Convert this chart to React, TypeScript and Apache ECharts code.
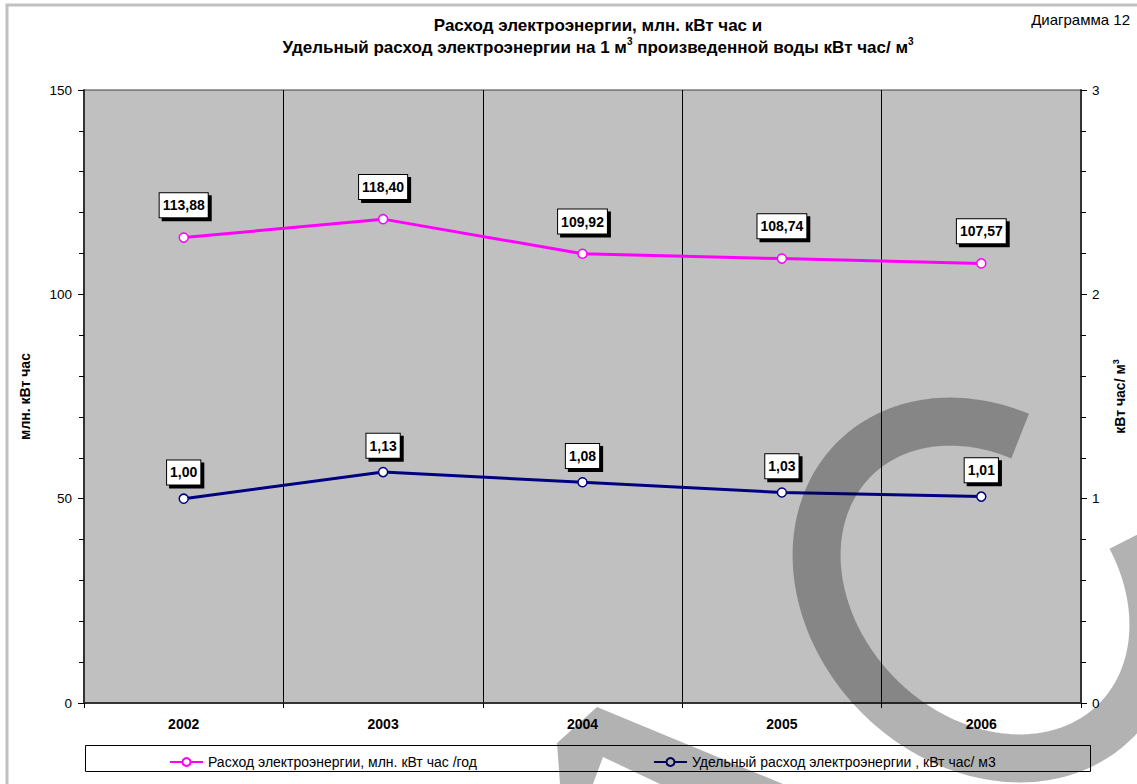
import React, { useEffect, useRef } from "react";
import * as echarts from "echarts";

const years = ["2002", "2003", "2004", "2005", "2006"];
const energyMln = [113.88, 118.4, 109.92, 108.74, 107.57];
const specificKwh = [1.0, 1.13, 1.08, 1.03, 1.01];
const leftAxisRange = [0, 150, 50];
const rightAxisRange = [0, 3, 1];

const seriesNames = [
  "Расход электроэнергии, млн. кВт час /год",
  "Удельный расход электроэнергии , кВт час/ м3",
];
const titleLine1 = "Расход электроэнергии, млн. кВт час и";
const titleLine2 =
  "Удельный расход электроэнергии на 1 м{sup|3} произведенной воды кВт час/ м{sup|3}";
const cornerNote = "Диаграмма 12";
const leftAxisName = "млн. кВт час";
const rightAxisName = "кВт час/ м{sup|3}";

const FONT = "'Liberation Sans', Arial, Helvetica, sans-serif";

function fmt(v: number) {
  return v.toFixed(2).replace(".", ",");
}

function watermarkPoints() {
  const cx = 985,
    cy = 590,
    a = 185,
    b = 150;
  const pts: number[][] = [];
  for (let deg = 117; deg <= 429; deg += 2) {
    const t = (deg * Math.PI) / 180;
    const u = a * Math.cos(t);
    const v = b * Math.sin(t);
    pts.push([cx + (u + v) / Math.SQRT2, cy + (u - v) / Math.SQRT2]);
  }
  return pts;
}

export default function App() {
  const ref = useRef<HTMLDivElement>(null);

  useEffect(() => {
    if (!ref.current) return;
    const chart = echarts.init(ref.current, null, { renderer: "svg" });

    const labelBase = {
      show: true,
      position: "top",
      formatter: (p: any) => fmt(p.value),
      color: "#000",
      fontFamily: FONT,
      fontSize: 14,
      fontWeight: "bold",
      lineHeight: 16,
      backgroundColor: "#fff",
      borderColor: "#000",
      borderWidth: 1,
      padding: [4, 3, 4, 3],
      shadowColor: "#000",
      shadowBlur: 0,
      shadowOffsetX: 3,
      shadowOffsetY: 3,
    };

    const option: any = {
      animation: false,
      backgroundColor: "#fff",
      textStyle: { fontFamily: FONT },
      grid: {
        left: 84,
        top: 90,
        right: 45,
        bottom: 81,
        show: true,
        backgroundColor: "#c0c0c0",
        borderColor: "#404040",
        borderWidth: 1,
      },
      legend: {
        left: 164,
        top: 750,
        itemWidth: 33,
        itemHeight: 10,
        itemGap: 176,
        textStyle: { color: "#000", fontSize: 14, fontFamily: FONT },
        data: seriesNames,
      },
      xAxis: {
        type: "category",
        data: years,
        boundaryGap: true,
        axisLine: { lineStyle: { color: "#333", width: 2 } },
        axisTick: { show: true, length: 5, interval: 0, lineStyle: { color: "#000" } },
        axisLabel: {
          color: "#000",
          fontSize: 14,
          fontWeight: "bold",
          fontFamily: FONT,
          margin: 14,
        },
        splitLine: { show: true, interval: 0, lineStyle: { color: "#000", width: 1 } },
      },
      yAxis: [
        {
          type: "value",
          min: leftAxisRange[0],
          max: leftAxisRange[1],
          interval: leftAxisRange[2],
          name: leftAxisName,
          nameLocation: "middle",
          nameGap: 52,
          nameTextStyle: { color: "#000", fontSize: 14, fontWeight: "bold", fontFamily: FONT },
          axisLine: { show: true, lineStyle: { color: "#333", width: 2 } },
          axisTick: { show: true, length: 6, lineStyle: { color: "#000" } },
          minorTick: { show: true, splitNumber: 5, length: 5, lineStyle: { color: "#000" } },
          axisLabel: { color: "#000", fontSize: 13.5, fontFamily: FONT, margin: 12 },
          splitLine: { show: false },
        },
        {
          type: "value",
          position: "right",
          min: rightAxisRange[0],
          max: rightAxisRange[1],
          interval: rightAxisRange[2],
          name: rightAxisName,
          nameLocation: "middle",
          nameGap: 30,
          nameTextStyle: {
            color: "#000",
            fontSize: 14,
            fontWeight: "bold",
            fontFamily: FONT,
            lineHeight: 18,
            rich: {
              sup: { fontSize: 9, fontWeight: "bold", verticalAlign: "top", lineHeight: 11, color: "#000" },
            },
          },
          axisLine: { show: true, lineStyle: { color: "#333", width: 2 } },
          axisTick: { show: true, length: 6, lineStyle: { color: "#000" } },
          minorTick: { show: true, splitNumber: 5, length: 5, lineStyle: { color: "#000" } },
          axisLabel: { color: "#000", fontSize: 13.5, fontFamily: FONT, margin: 11 },
          splitLine: { show: false },
        },
      ],
      series: [
        {
          name: seriesNames[0],
          type: "line",
          yAxisIndex: 0,
          data: energyMln,
          symbol: "circle",
          symbolSize: 9,
          lineStyle: { color: "#ff00ff", width: 3 },
          itemStyle: { color: "#fff", borderColor: "#ff00ff", borderWidth: 1.5 },
          label: { ...labelBase, distance: 15 },
          z: 3,
        },
        {
          name: seriesNames[1],
          type: "line",
          yAxisIndex: 1,
          data: specificKwh,
          symbol: "circle",
          symbolSize: 9,
          lineStyle: { color: "#000080", width: 3 },
          itemStyle: { color: "#fff", borderColor: "#000080", borderWidth: 1.5 },
          label: { ...labelBase, distance: 9 },
          z: 3,
        },
      ],
      graphic: [
        {
          type: "rect",
          silent: true,
          z: -10,
          shape: { x: 7, y: 5, width: 1300, height: 900 },
          style: { fill: "none", stroke: "#c0c0c0", lineWidth: 3 },
        },
        {
          type: "rect",
          silent: true,
          shape: { x: 85.5, y: 745.5, width: 1005, height: 26 },
          style: { fill: "none", stroke: "#000", lineWidth: 1 },
        },
        {
          type: "text",
          silent: true,
          x: 598,
          y: 14,
          style: {
            text: titleLine1 + "\n" + titleLine2,
            fill: "#000",
            fontSize: 17,
            fontWeight: "bold",
            fontFamily: FONT,
            lineHeight: 22,
            align: "center",
            textAlign: "center",
            verticalAlign: "top",
            textVerticalAlign: "top",
            rich: {
              sup: { fontSize: 10, fontWeight: "bold", fontFamily: FONT, fill: "#000", verticalAlign: "top", lineHeight: 13 },
            },
          },
        },
        {
          type: "text",
          silent: true,
          x: 1130,
          y: 19,
          style: {
            text: cornerNote,
            fill: "#000",
            fontSize: 15,
            fontFamily: FONT,
            align: "right",
            textAlign: "right",
            verticalAlign: "middle",
            textVerticalAlign: "middle",
          },
        },
        {
          type: "polyline",
          silent: true,
          z: 1000,
          shape: { points: watermarkPoints() },
          style: {
            fill: null,
            stroke: "rgba(0,0,0,0.3)",
            lineWidth: 48,
            lineCap: "butt",
            lineJoin: "round",
          },
        },
        {
          type: "polygon",
          silent: true,
          z: 1000,
          shape: {
            points: [
              [557, 743],
              [597, 707],
              [783, 784],
              [660, 784],
              [603, 757],
              [593, 784],
              [560, 784],
            ],
          },
          style: { fill: "rgba(0,0,0,0.3)", stroke: null },
        },
      ],
    };

    chart.setOption(option);
    return () => chart.dispose();
  }, []);

  return (
    <div
      ref={ref}
      style={{ position: "absolute", left: 0, top: 0, width: 1137, height: 784, background: "#fff" }}
    />
  );
}
